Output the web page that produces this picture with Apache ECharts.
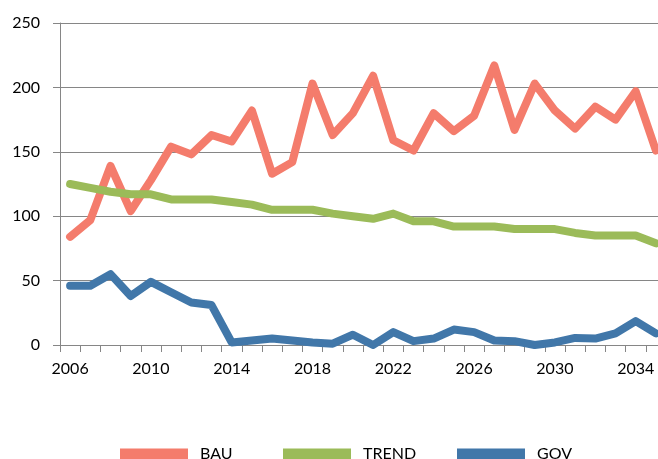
<!DOCTYPE html>
<html>
<head>
<meta charset="utf-8">
<style>html,body{margin:0;padding:0;background:#fff;overflow:hidden;width:658px;height:459px}#c{width:668px;height:459px}</style>
<script src="https://cdn.jsdelivr.net/npm/echarts@6/dist/echarts.min.js"></script>
</head>
<body>
<div id="c"></div>
<script>
const years = ['2006','2007','2008','2009','2010','2011','2012','2013','2014','2015','2016','2017','2018','2019','2020','2021','2022','2023','2024','2025','2026','2027','2028','2029','2030','2031','2032','2033','2034','2035'];
const bau = [84,97,139,104,128,154,148,163,158,182,133,142,203,163,180,209,159,151,180,166,178,217,167,203,182,168,185,175,197,151];
const trend = [125,122,119,117,117,113,113,113,111,109,105,105,105,102,100,98,102,96,96,92,92,92,90,90,90,87,85,85,85,79];
const gov = [46,46,55,38,49,41,33,31,2,3.5,5,3.5,2,1,8,0,10,3,5,12,10,3.5,3,0,2,5.5,5,9,18.5,9];
const yTicks = {min:0, max:250, interval:50};
const names = ['BAU','TREND','GOV'];
const colors = ['#F47C6C','#9BBB59','#4177A9'];

const font = 'Lato, "Open Sans", sans-serif';
const chart = echarts.init(document.getElementById('c'));
const mkSeries = (name, data, color) => ({
  name, type:'line', data, symbol:'none', smooth:false,
  lineStyle:{color, width:8, cap:'round', join:'round'},
  itemStyle:{color}, emphasis:{disabled:true}
});
const legendX = [115, 278, 452];
chart.setOption({
  animation:false,
  grid:{left:60, right:2, top:23, bottom:114},
  xAxis:{
    type:'category', data:years, boundaryGap:true,
    axisLine:{lineStyle:{color:'#868686', width:1}},
    axisTick:{show:true, length:7, interval:0, lineStyle:{color:'#868686'}},
    axisLabel:{interval:3, color:'#000', fontSize:16, fontFamily:font, margin:16}
  },
  yAxis:{
    type:'value', min:yTicks.min, max:yTicks.max, interval:yTicks.interval,
    axisLine:{show:true, lineStyle:{color:'#868686', width:1}},
    axisTick:{show:true, length:7, lineStyle:{color:'#868686'}},
    splitLine:{lineStyle:{color:'#868686', width:1}},
    axisLabel:{color:'#000', fontSize:16, fontFamily:font, margin:20}
  },
  legend: names.map((n,i)=>({
    data:[n], left:legendX[i], top:441, itemWidth:68, itemHeight:11,
    icon:'rect', selectedMode:false,
    textStyle:{color:'#000', fontSize:16, fontFamily:font, padding:[0,0,0,7]}
  })),
  series:[mkSeries(names[0], bau, colors[0]), mkSeries(names[1], trend, colors[1]), mkSeries(names[2], gov, colors[2])]
});
</script>
</body>
</html>
